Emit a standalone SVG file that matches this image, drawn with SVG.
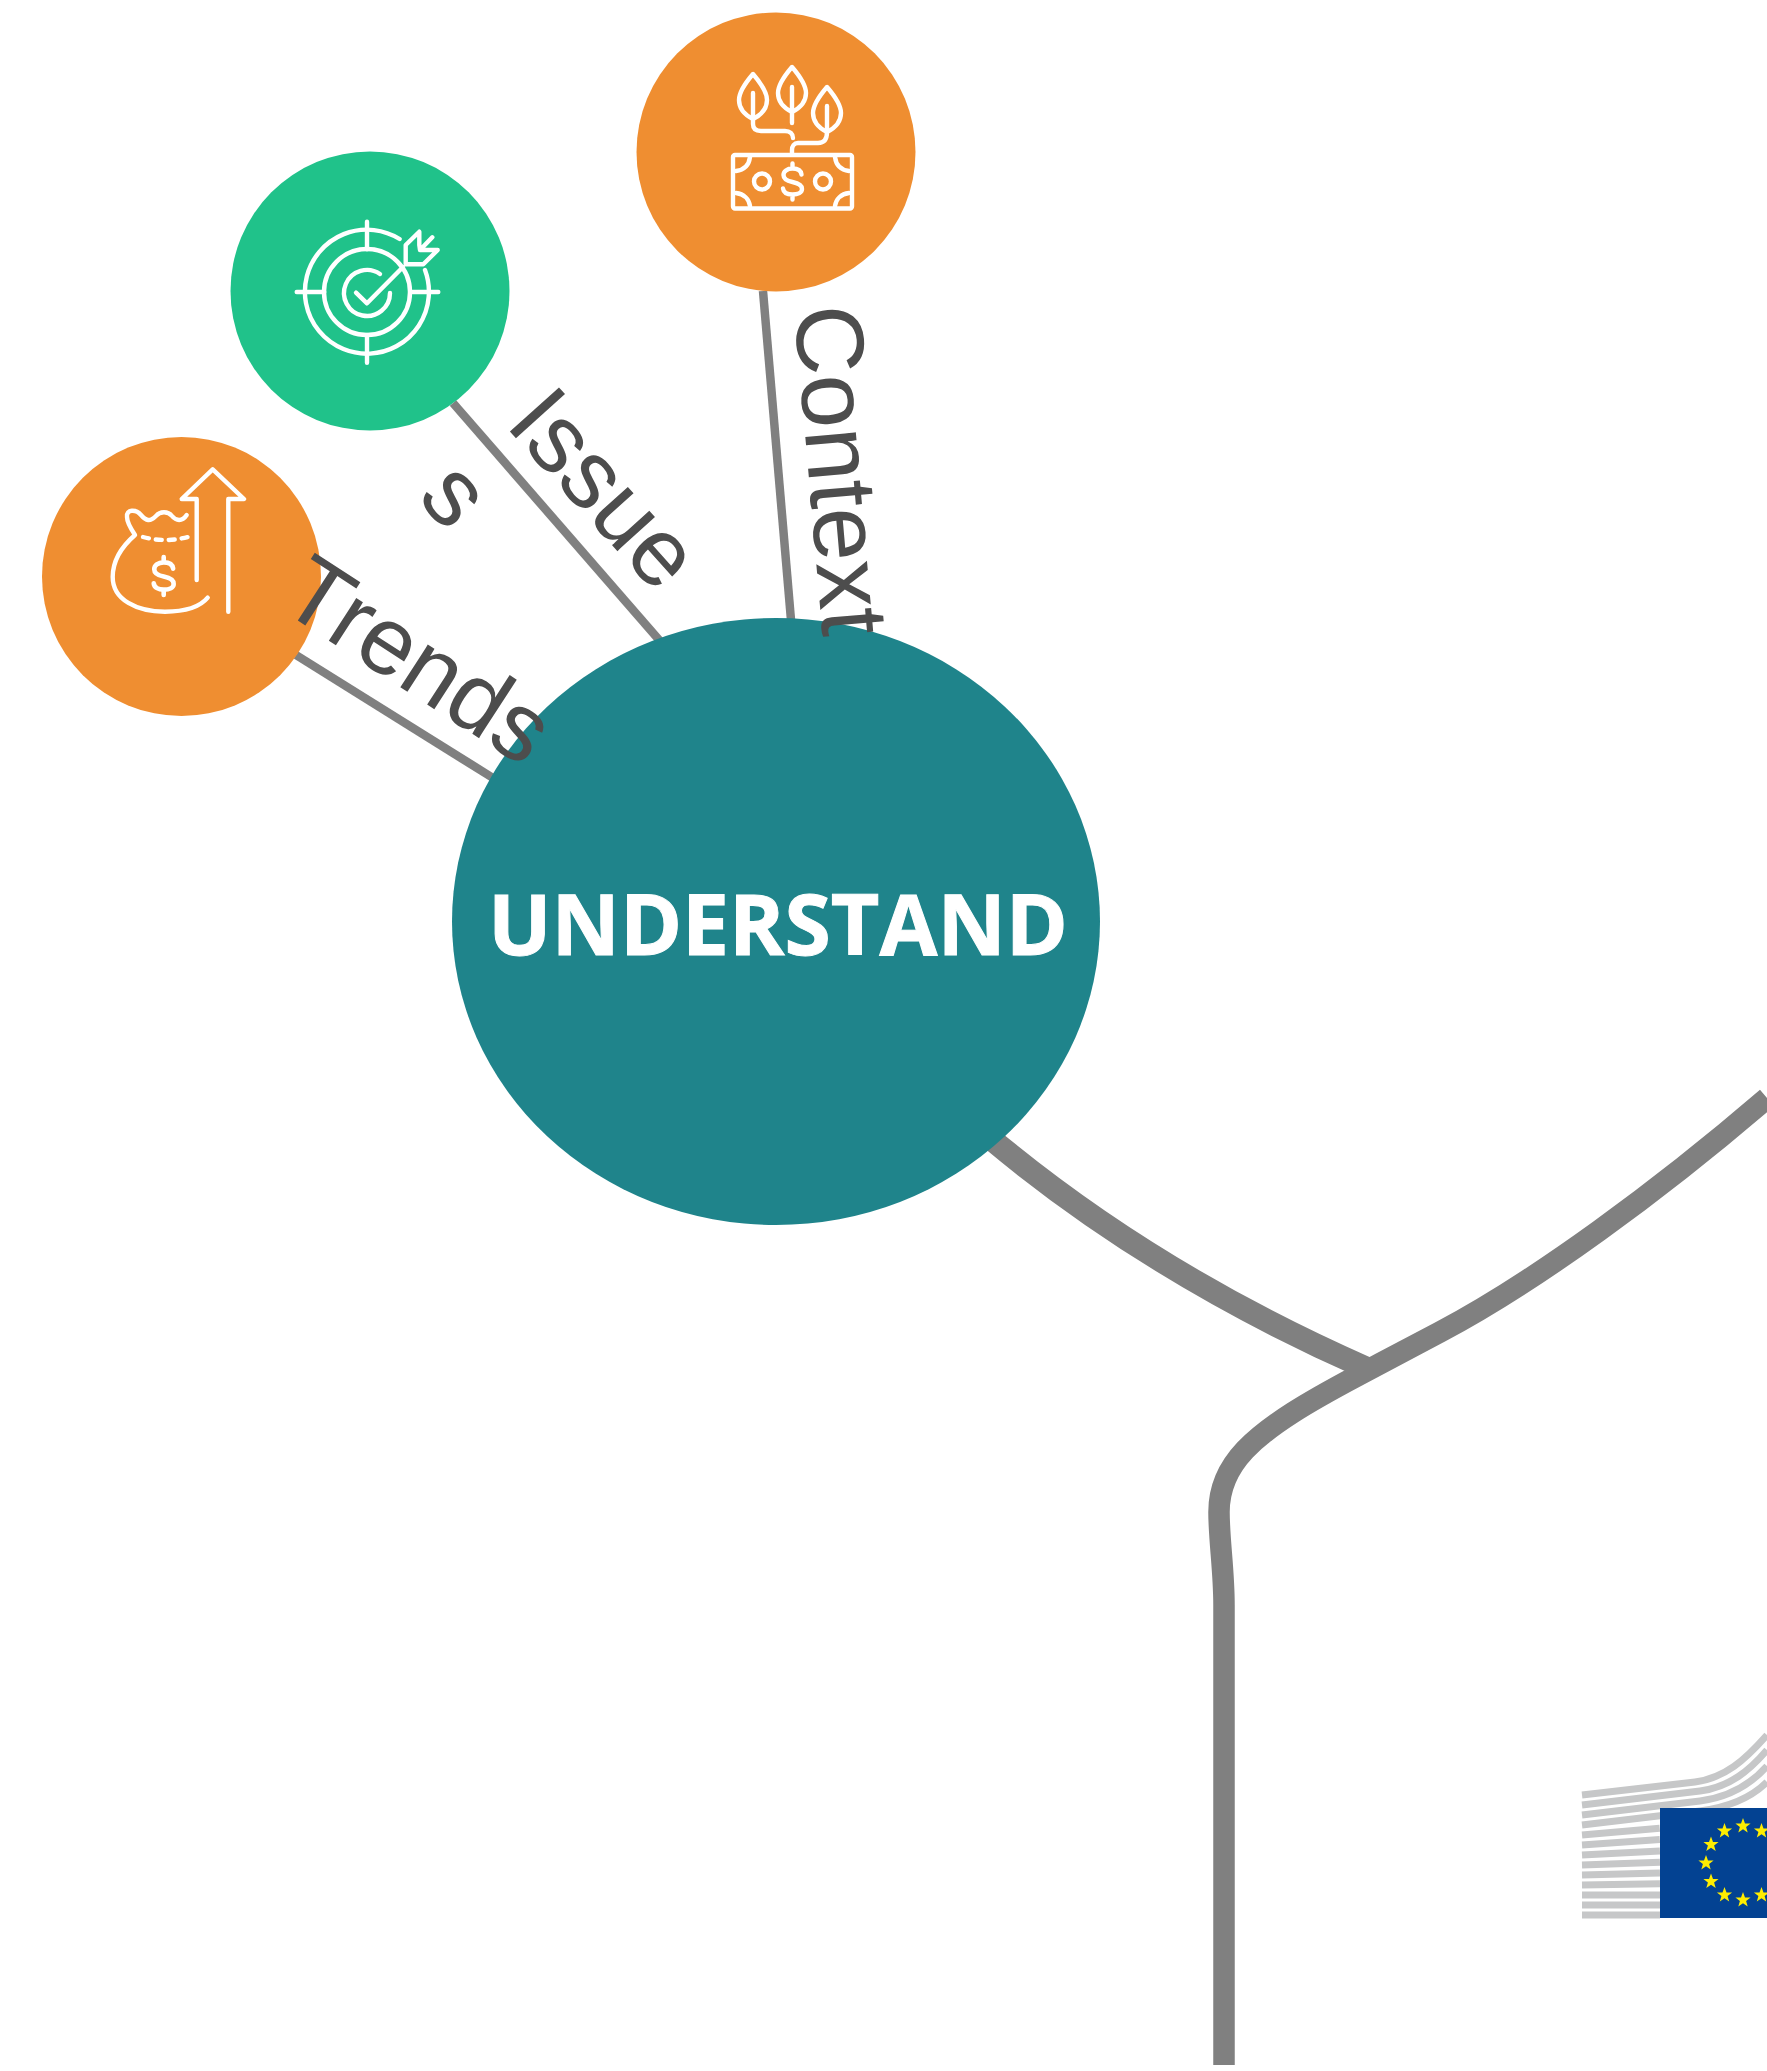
<svg xmlns="http://www.w3.org/2000/svg" width="1767" height="2071" viewBox="0 0 1767 2071">
<style>
.thin{fill:none;stroke:#808080;stroke-width:8.5}
.thick{fill:none;stroke:#808080;stroke-width:21.5}
.branch{fill:none;stroke:#808080;stroke-width:23}
.ic{fill:none;stroke:#fff;stroke-width:4.4;stroke-linecap:round;stroke-linejoin:round}
.lbl{font-family:"Liberation Sans",Arial,sans-serif;font-size:96px;fill:#4d4d4d}
.orange{fill:#ef8e31}
.green{fill:#20c28a}
.stripe{fill:none;stroke:#c6c7c8;stroke-width:7}
.star{fill:#ffed00}
</style>
<defs>
<path id="leaf" d="M0,0C-6,7-14,17-14,26C-14,36-6,42 0,45C6,42 14,36 14,26C14,17 6,7 0,0Z"/>
<path id="dollar" d="M9,-7C8.500,-11 5,-13 0,-13C-5.500,-13-9,-10-9,-6.500C-9,-2-5,-0.500 0,0.500C5,1.500 9.500,3 9.500,7.500C9.500,11 5.500,13 0,13C-5,13-9,11-9.500,7M0,-13V-18M0,13V18"/>
<polygon id="st" points="0,-8 2,-2.500 7.600,-2.500 3.100,1 4.700,6.500 0,3.200 -4.700,6.500 -3.100,1 -7.600,-2.500 -2,-2.500"/>
</defs>
<rect width="1767" height="2071" fill="#fff"/>
<g id="connectors">
<path class="thin" d="M763,291L791,620"/>
<path class="thin" d="M453,403L660,641"/>
<path class="thin" d="M296,655L493,778"/>
<path class="branch" d="M990,1138C1100,1230 1230,1308 1366,1368"/>
<path class="thick" d="M1767,1098C1660,1190 1535,1282 1440,1332C1415,1345 1385,1361 1357,1376C1310,1401 1270,1424 1245,1450C1228,1468 1219,1488 1219,1512C1219,1540 1224,1570 1224,1605V2065"/>
</g>
<g id="node-context">
<circle class="orange" cx="776" cy="152" r="139.500"/>
<g class="ic">
<rect x="733" y="155" width="119" height="53.500" rx="2"/>
<path d="M736,171C744,170 749,165 750,157M849,171C841,170 836,165 835,157M736,193C744,194 749,199 750,206M849,193C841,194 836,199 835,206"/>
<circle cx="762" cy="181.500" r="8"/>
<circle cx="823" cy="181.500" r="8"/>
<use href="#dollar" x="792.500" y="181.500"/>
<use href="#leaf" x="753" y="74"/>
<use href="#leaf" x="792" y="67"/>
<use href="#leaf" x="827" y="87"/>
<path d="M753,93V124C753,129 756,131 761,131H785C790,131 793,134 793,138"/>
<path d="M792,87V123"/>
<path d="M827,106V132C827,139 824,143 818,143H798C794,143 792,146 792,150V154"/>
</g>
</g>
<g id="node-issues">
<circle class="green" cx="370" cy="291" r="139.500"/>
<g class="ic">
<path d="M399.600,239A62,62 0 1 0 425,270"/>
<circle cx="367" cy="292" r="43"/>
<path d="M380,274A23,23 0 1 0 390,293"/>
<path d="M367,221.700V249.300M367,335V362.700M296.700,292H324.300M410,292H438.300"/>
<path d="M356,292.700L367,303.300L403,267"/>
<path d="M405.700,264.300V245L419.300,231.700V245L420,250L432.300,237.300M420,250H437.700L423.300,264.300H405.700"/>
</g>
</g>
<g id="node-trends">
<circle class="orange" cx="181.500" cy="576.500" r="139.500"/>
<g class="ic">
<path d="M196.700,580V499H181.700L212.700,469.300L244,499H228.300V611.700"/>
<path d="M186.700,515C182,522 176,521 172,516C168,511 160,511 156,516C150,522 146,521 141,515C136,509 126,509 127,517C127,523 131,529 135,535C120,548 112.700,562 112.700,577C112.700,600 137,611.700 165,611.700C187,611.700 200,607 207.700,597.700"/>
<path d="M143,537Q165,543 188,537" stroke-dasharray="6 7"/>
<use href="#dollar" transform="translate(163.700,576) scale(1.05)"/>
</g>
</g>
<g id="node-understand">
<ellipse cx="776" cy="921.500" rx="324" ry="303.500" fill="#1f848b"/>
<text x="778" y="955" text-anchor="middle" font-family="'Open Sans',sans-serif" font-weight="700" font-size="84" stroke="#fff" stroke-width="1" fill="#fff">UNDERSTAND</text>
</g>
<text class="lbl" transform="translate(794,308) rotate(85)">Context</text>
<text class="lbl" transform="translate(504,425) rotate(48)">Issue</text>
<text class="lbl" transform="translate(416,498) rotate(48)">s</text>
<text class="lbl" transform="translate(277,607) rotate(33)">Trends</text>
<g id="logo">
<path class="stripe" d="M1582,1795L1695,1782C1725,1778 1745,1760 1767,1735"/>
<path class="stripe" d="M1582,1805L1700,1791C1730,1787 1750,1770 1767,1750"/>
<path class="stripe" d="M1582,1815L1700,1801C1730,1797 1752,1783 1767,1766"/>
<path class="stripe" d="M1582,1825L1700,1811C1730,1807 1752,1797 1767,1782"/>
<path class="stripe" d="M1582,1835H1660" transform="rotate(-5 1582 1835)"/>
<path class="stripe" d="M1582,1845H1660" transform="rotate(-4 1582 1845)"/>
<path class="stripe" d="M1582,1855H1660" transform="rotate(-3 1582 1855)"/>
<path class="stripe" d="M1582,1865H1660" transform="rotate(-2 1582 1865)"/>
<path class="stripe" d="M1582,1875H1660" transform="rotate(-1.500 1582 1875)"/>
<path class="stripe" d="M1582,1885H1660" transform="rotate(-1 1582 1885)"/>
<path class="stripe" d="M1582,1895H1660"/>
<path class="stripe" d="M1582,1905H1660"/>
<path class="stripe" d="M1582,1915H1660"/>
<rect x="1660" y="1808" width="107" height="110" fill="#034292"/>
<g class="star">
<use href="#st" x="1743" y="1826"/>
<use href="#st" x="1724.500" y="1831"/>
<use href="#st" x="1761.500" y="1831"/>
<use href="#st" x="1711" y="1844.500"/>
<use href="#st" x="1706" y="1863"/>
<use href="#st" x="1711" y="1881.500"/>
<use href="#st" x="1724.500" y="1895"/>
<use href="#st" x="1743" y="1900"/>
<use href="#st" x="1761.500" y="1895"/>
</g>
</g>
</svg>
